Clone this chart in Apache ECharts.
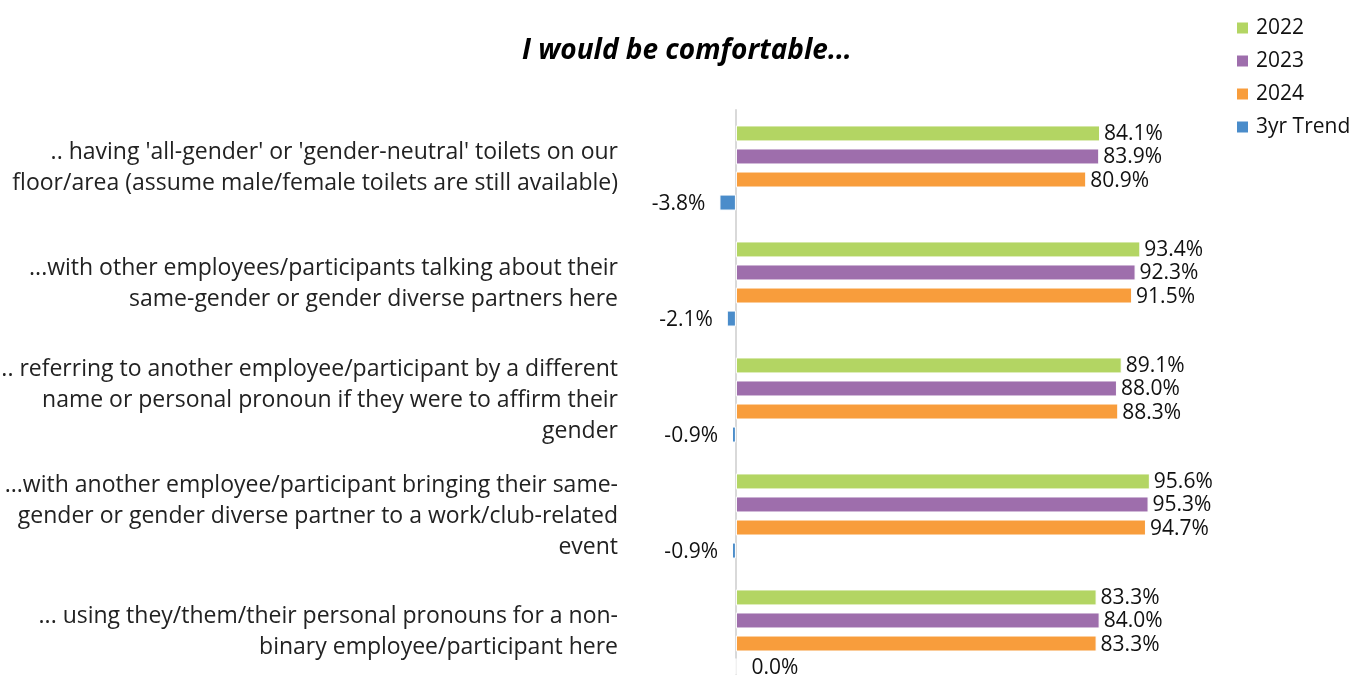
<!DOCTYPE html>
<html>
<head>
<meta charset="utf-8">
<script src="https://cdn.jsdelivr.net/npm/echarts@6/dist/echarts.min.js"></script>
<style>html,body{margin:0;padding:0;background:#fff;}#c{width:1355px;height:675px;}</style>
</head>
<body>
<div id="c"></div>
<script>
const categories = [
  ".. having 'all-gender' or 'gender-neutral' toilets on our\nfloor/area (assume male/female toilets are still available)",
  "...with other employees/participants talking about their\nsame-gender or gender diverse partners here",
  ".. referring to another employee/participant by a different\nname or personal pronoun if they were to affirm their\ngender",
  "...with another employee/participant bringing their same-\ngender or gender diverse partner to a work/club-related\nevent",
  "... using they/them/their personal pronouns for a non-\nbinary employee/participant here"
];
const seriesNames = ["2022", "2023", "2024", "3yr Trend"];
const v2022 = [84.1, 93.4, 89.1, 95.6, 83.3];
const v2023 = [83.9, 92.3, 88.0, 95.3, 84.0];
const v2024 = [80.9, 91.5, 88.3, 94.7, 83.3];
const vTrend = [-3.8, -2.1, -0.9, -0.9, 0.0];
const colors = ["#b3d563", "#9e6eac", "#f89d3c", "#4a8cca"];

const FONT = "'Open Sans', 'Noto Sans', sans-serif";

function mkSeries(name, vals, color) {
  return {
    name: name,
    type: 'bar',
    barWidth: 16,
    barGap: '44%',
    itemStyle: { color: color, borderColor: '#ffffff', borderWidth: 1 },
    data: vals.map(v => ({
      value: v,
      label: v < 0 ? { position: 'left', distance: 14 } : (v === 0 ? { position: 'right', distance: 15 } : { position: 'right', distance: 4 })
    })),
    label: {
      show: true,
      fontFamily: FONT,
      fontSize: 21,
      color: '#111',
      offset: [0, 1],
      formatter: p => p.value.toFixed(1) + '%'
    }
  };
}

const chart = echarts.init(document.getElementById('c'));
chart.setOption({
  backgroundColor: '#fff',
  animation: false,
  title: {
    text: 'I would be comfortable...',
    left: 517,
    top: 32,
    textStyle: { fontFamily: FONT, fontSize: 28, fontWeight: 'bold', fontStyle: 'italic', color: '#000' }
  },
  legend: {
    orient: 'vertical',
    left: 1230,
    top: 12,
    itemWidth: 13,
    itemHeight: 13,
    itemGap: 11,
    icon: 'rect',
    data: seriesNames,
    textStyle: { fontFamily: FONT, fontSize: 21, color: '#111', lineHeight: 22, padding: [0, 0, 0, 2] }
  },
  grid: { left: 632, width: 623.5, top: 110, height: 580, containLabel: false, outerBoundsMode: 'none' },
  xAxis: {
    type: 'value', min: -24, max: 120, show: false
  },
  yAxis: {
    type: 'category',
    inverse: true,
    data: categories,
    axisLine: { show: true, onZero: true, lineStyle: { color: '#d9d9d9', width: 2 } },
    axisTick: { show: false },
    axisLabel: { margin: 14, fontFamily: FONT, fontSize: 23, lineHeight: 31, color: '#222', align: 'right' }
  },
  series: [
    mkSeries(seriesNames[0], v2022, colors[0]),
    mkSeries(seriesNames[1], v2023, colors[1]),
    mkSeries(seriesNames[2], v2024, colors[2]),
    mkSeries(seriesNames[3], vTrend, colors[3])
  ]
});
</script>
</body>
</html>
